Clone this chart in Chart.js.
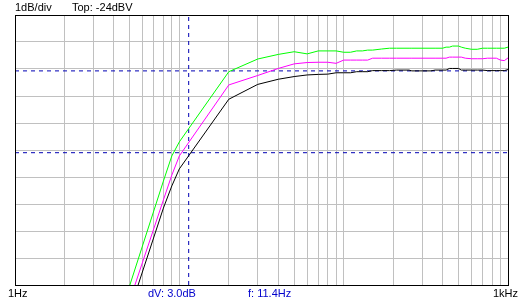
<!DOCTYPE html>
<html>
<head>
<meta charset="utf-8">
<script src="https://cdn.jsdelivr.net/npm/chart.js@4"></script>
<style>
  html, body { margin: 0; padding: 0; background: #fff; }
  #chart { display: block; }
</style>
</head>
<body>
<canvas id="chart" width="530" height="300"></canvas>
<script>
// Frequency points (Hz) shared by all three traces
const freqHz = [4, 5, 8, 9, 10, 20, 30, 40, 50, 60, 70, 80, 90, 100, 110, 120, 130, 140, 150, 170, 190,
    210, 250, 260, 340, 360, 400, 420, 440, 460, 500, 520, 550, 600, 650, 700, 750, 850, 900, 950, 1000];

// Levels in dBV
const greenDb = [-35.61, -34.00, -30.15, -29.22, -28.70, -26.10, -25.63, -25.46, -25.36, -25.44, -25.33, -25.33, -25.33, -25.38, -25.38, -25.33, -25.33, -25.30, -25.30, -25.26, -25.23,
    -25.23, -25.23, -25.23, -25.23, -25.23, -25.23, -25.19, -25.19, -25.15, -25.15, -25.19, -25.23, -25.27, -25.27, -25.23, -25.23, -25.23, -25.23, -25.23, -25.19];
const magentaDb = [-36.26, -34.56, -30.85, -29.93, -29.22, -26.59, -26.24, -25.98, -25.81, -25.76, -25.75, -25.75, -25.79, -25.67, -25.67, -25.67, -25.67, -25.67, -25.60, -25.60, -25.60,
    -25.60, -25.60, -25.60, -25.60, -25.60, -25.60, -25.60, -25.56, -25.56, -25.56, -25.56, -25.60, -25.62, -25.62, -25.62, -25.60, -25.60, -25.67, -25.69, -25.59];
const blackDb = [-36.65, -34.93, -31.15, -30.33, -29.70, -27.12, -26.57, -26.38, -26.28, -26.22, -26.20, -26.19, -26.14, -26.14, -26.14, -26.10, -26.10, -26.10, -26.06, -26.06, -26.06,
    -26.04, -26.04, -26.07, -26.07, -26.04, -26.04, -26.04, -25.98, -25.98, -25.98, -26.04, -26.04, -26.04, -26.04, -26.04, -26.06, -26.06, -26.06, -26.06, -26.02];

// Cursor readout
const cursorHz = 11.4;
const cursorRefDb = -26.07;
const cursorDb = -29.1;

// Axes
const xGridHz = [1, 2, 3, 4, 5, 6, 7, 8, 9, 10, 20, 30, 40, 50, 60, 70, 80, 90,
    100, 200, 300, 400, 500, 600, 700, 800, 900, 1000];
const yMinDb = -34;
const yMaxDb = -24;

const headerLabels = ['1dB/div', 'Top: -24dBV'];
const xEndLabels = ['1Hz', '1kHz'];
const cursorLabels = ['dV: 3.0dB', 'f: 11.4Hz'];

const toPoints = vals => freqHz.map((f, i) => ({ x: f, y: vals[i] }));

const trace = (label, vals, color) => ({
    label: label,
    data: toPoints(vals),
    borderColor: color,
    borderWidth: 1,
    pointRadius: 0,
    tension: 0,
    fill: false
});

const cursor = (label, data) => ({
    label: label,
    data: data,
    borderColor: '#0000b4',
    borderWidth: 1,
    borderDash: [4, 4],
    pointRadius: 0,
    tension: 0,
    fill: false
});

// Draws the frame and the text around the plot
const framePlugin = {
    id: 'frame',
    afterDraw(chart) {
        const { ctx, chartArea: a } = chart;
        ctx.save();
        ctx.strokeStyle = '#000';
        ctx.lineWidth = 1;
        ctx.strokeRect(a.left + 0.5, a.top + 0.5, a.right - a.left, a.bottom - a.top);

        ctx.font = '11px "Liberation Sans", Arial, sans-serif';
        ctx.textBaseline = 'alphabetic';
        ctx.fillStyle = '#000';
        ctx.fillText(headerLabels[0], 15, 11);
        ctx.fillText(headerLabels[1], 72, 11);
        ctx.fillText(xEndLabels[0], 8, 297);
        ctx.fillText(xEndLabels[1], 493, 297);
        ctx.fillStyle = '#0000cc';
        ctx.fillText(cursorLabels[0], 148, 297);
        ctx.fillText(cursorLabels[1], 248, 297);
        ctx.restore();
    }
};

new Chart(document.getElementById('chart'), {
    type: 'line',
    data: {
        datasets: [
            trace('black', blackDb, '#000000'),
            trace('magenta', magentaDb, '#ff00ff'),
            trace('green', greenDb, '#00ff00'),
            cursor('ref', [{ x: 1, y: cursorRefDb }, { x: 1000, y: cursorRefDb }]),
            cursor('level', [{ x: 1, y: cursorDb }, { x: 1000, y: cursorDb }]),
            cursor('freq', [{ x: cursorHz, y: yMinDb }, { x: cursorHz, y: yMaxDb }])
        ]
    },
    options: {
        responsive: false,
        animation: false,
        devicePixelRatio: 1,
        layout: { padding: { left: 15, top: 15, right: 22, bottom: 15 } },
        plugins: {
            legend: { display: false },
            tooltip: { enabled: false }
        },
        scales: {
            x: {
                type: 'logarithmic',
                min: 1,
                max: 1000,
                afterBuildTicks: scale => { scale.ticks = xGridHz.map(v => ({ value: v })); },
                ticks: { display: false },
                grid: { color: '#c0c0c0', lineWidth: 1, drawTicks: false },
                border: { display: false }
            },
            y: {
                min: yMinDb,
                max: yMaxDb,
                ticks: { display: false, stepSize: 1 },
                grid: { color: '#c0c0c0', lineWidth: 1, drawTicks: false },
                border: { display: false }
            }
        }
    },
    plugins: [framePlugin]
});
</script>
</body>
</html>
